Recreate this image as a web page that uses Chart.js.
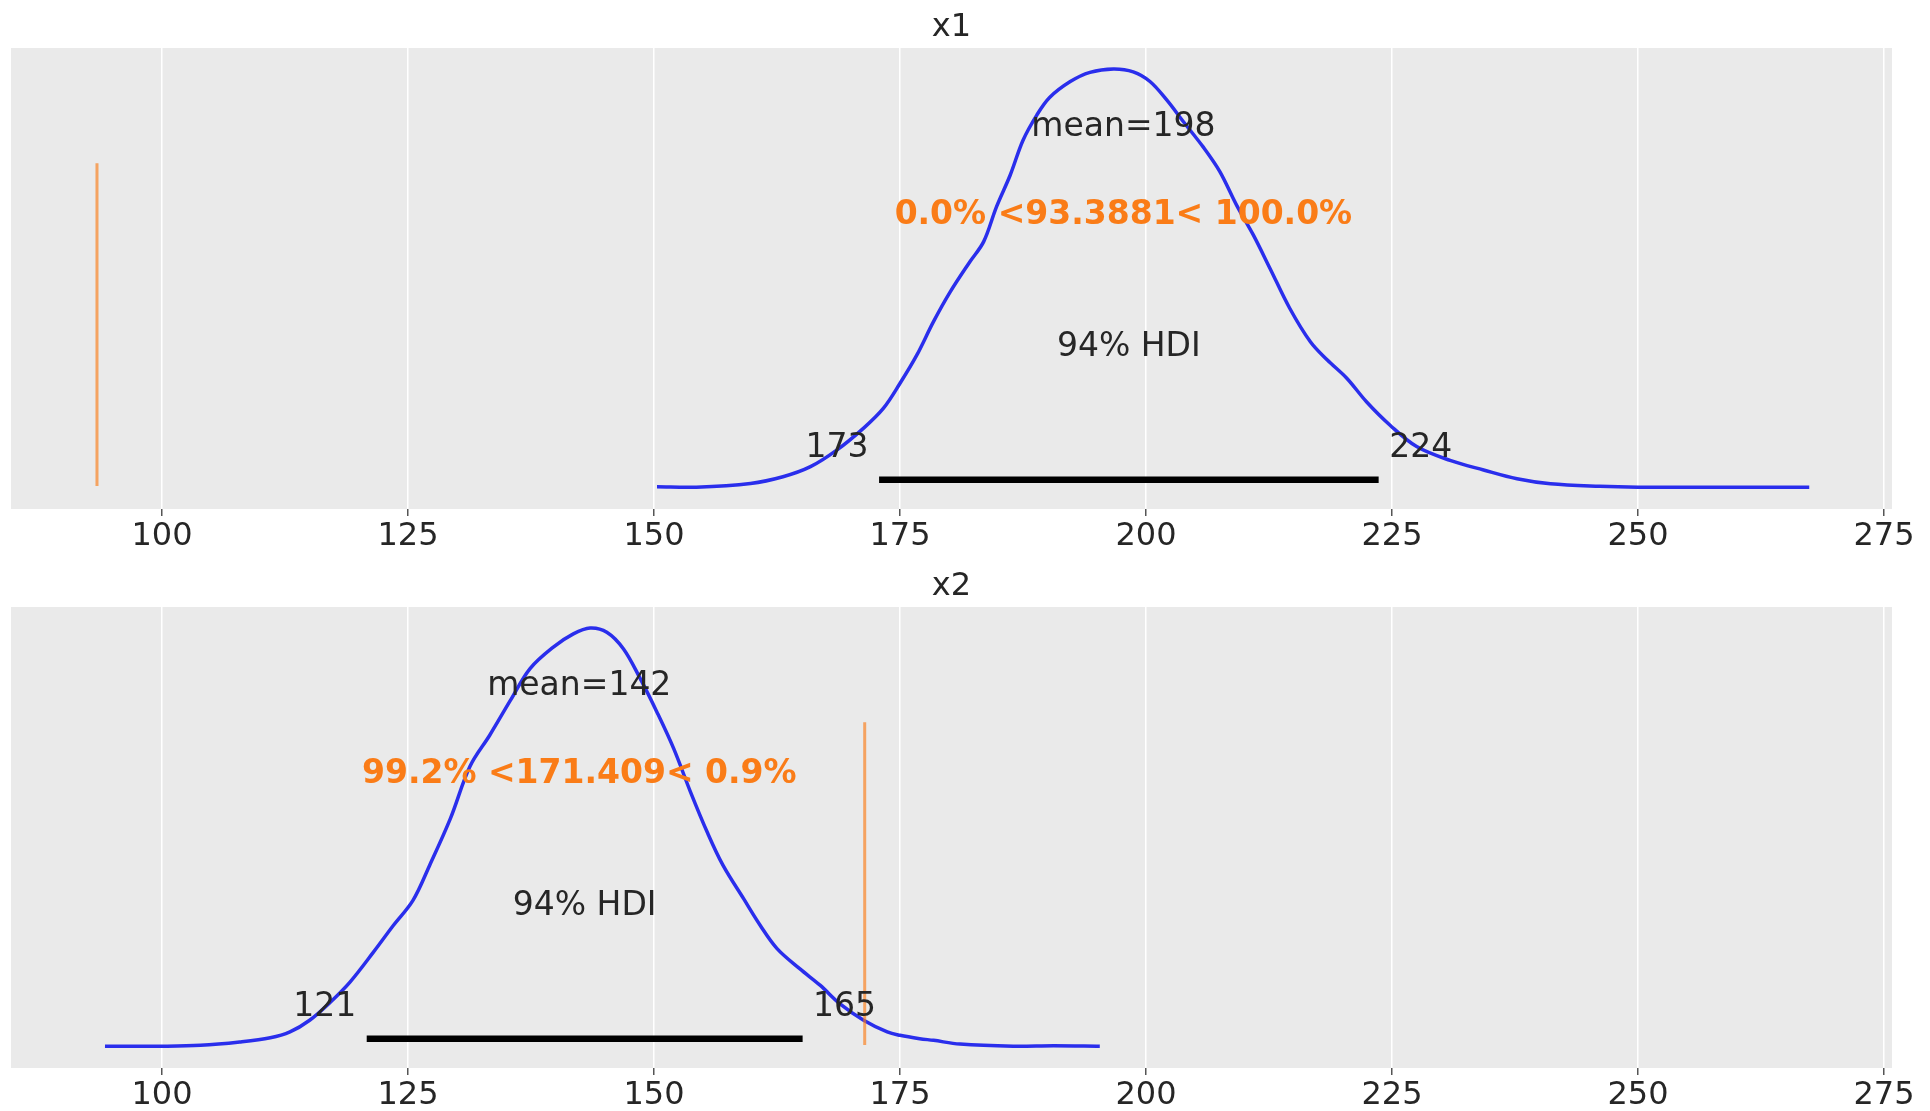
<!DOCTYPE html>
<html>
<head>
<meta charset="utf-8">
<script src="https://cdn.jsdelivr.net/npm/chart.js@4.4.0/dist/chart.umd.min.js"></script>
<style>
  html, body { margin: 0; padding: 0; background: #fff; }
  .panel { position: absolute; left: 0; width: 1930px; }
</style>
</head>
<body>
<div class="panel" style="top:0;height:555px"><canvas id="graph1"></canvas></div>
<div class="panel" style="top:555px;height:556px"><canvas id="graph2"></canvas></div>
<script>
// shared x axis
const xMin = 84.65;
const xMax = 275.81;
const tickValues = [100, 125, 150, 175, 200, 225, 250, 275];

// x1 posterior (kde, relative height)
const x1Grid = [150.3, 154.3, 159.8, 163.1, 165.9, 168.6, 171.3, 173.3, 175.0, 176.7, 178.4, 180.1, 182.1, 183.5, 184.8, 186.2, 187.5, 188.9, 190.2, 192.3, 194.3, 196.7, 198.7, 200.4, 202.1, 203.8, 205.8, 207.5, 209.2, 210.9, 212.6, 214.6, 216.7, 218.4, 220.4, 222.4, 224.8, 227.5, 230.9, 234.3, 237.7, 241.1, 246.1, 250.0, 258.0, 267.4];
const x1Density = [0.003, 0.002, 0.011, 0.027, 0.051, 0.091, 0.143, 0.190, 0.250, 0.317, 0.397, 0.468, 0.540, 0.588, 0.671, 0.747, 0.830, 0.890, 0.932, 0.970, 0.992, 1.000, 0.993, 0.970, 0.926, 0.874, 0.814, 0.755, 0.675, 0.604, 0.524, 0.429, 0.349, 0.306, 0.262, 0.206, 0.150, 0.099, 0.066, 0.043, 0.022, 0.010, 0.004, 0.002, 0.002, 0.002];

// x2 posterior
const x2Grid = [94.2, 100.0, 103.9, 107.9, 111.0, 113.0, 115.0, 117.1, 119.1, 121.5, 123.5, 125.5, 127.2, 129.3, 131.3, 133.3, 135.4, 137.4, 139.8, 141.8, 143.5, 145.2, 146.9, 148.6, 150.3, 152.0, 153.7, 155.4, 157.0, 159.1, 160.8, 162.5, 164.8, 166.9, 168.9, 171.3, 173.7, 175.0, 177.0, 178.4, 181.1, 186.5, 190.6, 195.3];
const x2Density = [0.002, 0.002, 0.004, 0.012, 0.022, 0.036, 0.064, 0.107, 0.155, 0.227, 0.290, 0.350, 0.434, 0.545, 0.670, 0.744, 0.827, 0.903, 0.955, 0.986, 1.000, 0.990, 0.950, 0.879, 0.799, 0.712, 0.609, 0.513, 0.434, 0.354, 0.290, 0.235, 0.187, 0.147, 0.103, 0.064, 0.036, 0.028, 0.020, 0.016, 0.007, 0.002, 0.003, 0.002];

const titles = ['x1', 'x2'];
const means = [197.7, 142.4];
const meanLabels = ['mean=198', 'mean=142'];
const hdiLow = [172.87, 120.8];
const hdiHigh = [223.64, 165.1];
const hdiLowLabels = ['173', '121'];
const hdiHighLabels = ['224', '165'];
const refVals = [93.3881, 171.409];
const refLabels = ['0.0% <93.3881< 100.0%', '99.2% <171.409< 0.9%'];

const FONT = '"DejaVu Sans", sans-serif';
const TEXT = '#262626';
const ORANGE = '#fa7c17';

const panelPlugin = {
    id: 'panelText',
    beforeDraw(chart) {
        const { ctx, chartArea: a } = chart;
        ctx.save();
        ctx.fillStyle = '#eaeaea';
        ctx.fillRect(a.left, a.top, a.right - a.left, a.bottom - a.top);
        ctx.restore();
    },
    afterDatasetsDraw(chart, args, o) {
        const { ctx, chartArea: a, scales: { x, y } } = chart;
        const i = o.index;
        ctx.save();
        ctx.textBaseline = 'alphabetic';
        ctx.font = '32px ' + FONT;
        ctx.fillStyle = TEXT;
        ctx.textAlign = 'center';
        ctx.fillText(titles[i], (a.left + a.right) / 2, a.top - 12);
        ctx.font = '33px ' + FONT;
        ctx.fillText(meanLabels[i], x.getPixelForValue(means[i]), y.getPixelForValue(0.84));
        ctx.fillText('94% HDI', x.getPixelForValue((hdiLow[i] + hdiHigh[i]) / 2), y.getPixelForValue(0.315));
        ctx.textAlign = 'right';
        ctx.fillText(hdiLowLabels[i] + ' ', x.getPixelForValue(hdiLow[i]), y.getPixelForValue(0.0735));
        ctx.textAlign = 'left';
        ctx.fillText(' ' + hdiHighLabels[i], x.getPixelForValue(hdiHigh[i]), y.getPixelForValue(0.0735));
        ctx.font = 'bold 33px ' + FONT;
        ctx.fillStyle = ORANGE;
        ctx.textAlign = 'center';
        ctx.fillText(refLabels[i], x.getPixelForValue(means[i]), y.getPixelForValue(0.63));
        ctx.restore();
    }
};

function makeChart(canvas, i, grid, dens, padTop, axisH) {
    const kde = grid.map((v, k) => ({ x: v, y: dens[k] }));
    return new Chart(canvas, {
        type: 'line',
        data: {
            datasets: [
                { data: kde, borderColor: '#2a2eec', borderWidth: 3.5, pointRadius: 0, tension: 0.35, order: 3 },
                { data: [{ x: hdiLow[i], y: 0.02 }, { x: hdiHigh[i], y: 0.02 }], borderColor: '#000', borderWidth: 6.5, borderCapStyle: 'butt', pointRadius: 0, order: 2 },
                { data: [{ x: refVals[i], y: 0.005 }, { x: refVals[i], y: 0.775 }], borderColor: 'rgba(250,124,23,0.65)', borderWidth: 3, pointRadius: 0, order: 1 }
            ]
        },
        options: {
            responsive: true,
            maintainAspectRatio: false,
            animation: false,
            layout: { padding: { top: padTop, left: 11, right: 38, bottom: 0 } },
            plugins: {
                legend: { display: false },
                tooltip: { enabled: false },
                panelText: { index: i }
            },
            scales: {
                x: {
                    type: 'linear',
                    min: xMin,
                    max: xMax,
                    afterBuildTicks: (s) => { s.ticks = tickValues.map(v => ({ value: v })); },
                    afterFit: (s) => { s.height = axisH; },
                    grid: { color: '#ffffff', lineWidth: 1.5, tickColor: '#555', tickLength: 7 },
                    border: { display: false },
                    ticks: { font: { family: FONT, size: 32 }, color: TEXT, padding: 1, maxRotation: 0, autoSkip: false }
                },
                y: { display: false, min: -0.05, max: 1.05 }
            }
        },
        plugins: [panelPlugin]
    });
}

var chart1 = makeChart(document.getElementById('graph1'), 0, x1Grid, x1Density, 48, 46);
var chart2 = makeChart(document.getElementById('graph2'), 1, x2Grid, x2Density, 52, 43);
</script>
</body>
</html>
